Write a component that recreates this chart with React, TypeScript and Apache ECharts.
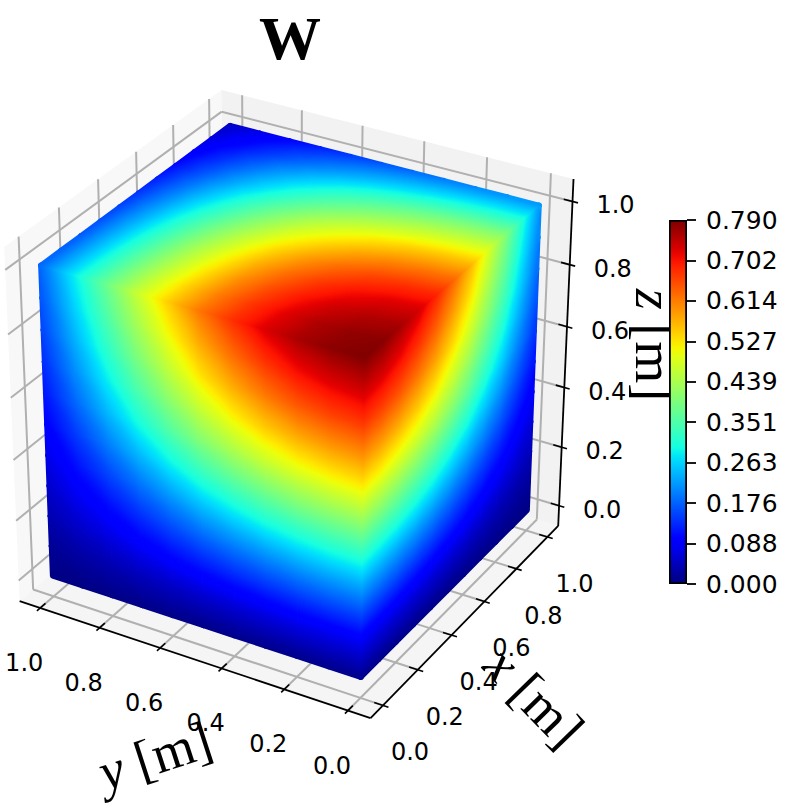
import React, { useEffect, useRef } from "react";
import * as echarts from "echarts";

const tickValues = [0, 0.2, 0.4, 0.6, 0.8, 1.0];
const colorbarTicks = [0, 0.0878, 0.1756, 0.2633, 0.3511, 0.4389, 0.5267, 0.6144, 0.7022, 0.79];
const W_MAX = 0.79;
const gridStep = 0.1;

// W on the top face z=1: rows x = 0..1, columns y = 0..1
const topFace = [
  [.790,.782,.762,.727,.679,.620,.545,.462,.371,.277,.182],
  [.784,.776,.757,.721,.674,.615,.541,.459,.368,.274,.180],
  [.763,.755,.736,.702,.656,.599,.526,.446,.359,.267,.175],
  [.731,.724,.705,.673,.629,.574,.504,.428,.344,.256,.168],
  [.687,.680,.663,.632,.591,.539,.474,.402,.323,.240,.158],
  [.629,.623,.607,.579,.541,.494,.434,.368,.296,.220,.145],
  [.562,.556,.542,.517,.483,.441,.388,.329,.264,.197,.129],
  [.482,.477,.465,.443,.415,.378,.333,.282,.227,.169,.111],
  [.400,.396,.386,.368,.344,.314,.276,.234,.188,.140,.092],
  [.308,.305,.297,.283,.265,.242,.213,.180,.145,.108,.071],
  [.221,.219,.213,.203,.190,.173,.152,.129,.104,.077,.051],
];
// W on the face x=0: rows y = 0..1, columns z = 0..1
const leftFace = [
  [.012,.071,.150,.233,.324,.419,.514,.596,.672,.735,.790],
  [.012,.070,.149,.231,.321,.414,.508,.590,.665,.727,.782],
  [.011,.069,.145,.225,.312,.404,.495,.575,.648,.709,.762],
  [.011,.065,.138,.214,.298,.385,.473,.549,.618,.676,.727],
  [.010,.061,.129,.200,.278,.360,.441,.513,.577,.631,.679],
  [.009,.056,.118,.183,.254,.329,.403,.468,.527,.577,.620],
  [.008,.049,.104,.161,.223,.289,.354,.411,.463,.507,.545],
  [.007,.042,.088,.136,.189,.245,.300,.349,.393,.430,.462],
  [.006,.033,.070,.109,.152,.197,.241,.280,.315,.345,.371],
  [.004,.025,.053,.082,.114,.147,.180,.209,.235,.258,.277],
  [.003,.016,.035,.054,.075,.096,.118,.137,.155,.169,.182],
];
// W on the face y=0: rows x = 0..1, columns z = 0..1
const rightFace = [
  [.012,.071,.150,.233,.324,.419,.514,.596,.672,.735,.790],
  [.012,.071,.149,.231,.321,.416,.510,.592,.666,.729,.784],
  [.011,.069,.145,.225,.313,.404,.496,.576,.649,.710,.763],
  [.011,.066,.139,.216,.300,.387,.475,.552,.621,.680,.731],
  [.010,.062,.131,.203,.282,.364,.447,.519,.584,.639,.687],
  [.009,.057,.120,.186,.258,.333,.409,.475,.535,.585,.629],
  [.008,.051,.107,.166,.230,.298,.365,.424,.478,.523,.562],
  [.007,.043,.092,.142,.198,.255,.313,.364,.410,.448,.482],
  [.006,.036,.076,.118,.164,.212,.260,.302,.340,.372,.400],
  [.005,.028,.059,.091,.126,.163,.200,.233,.262,.286,.308],
  [.003,.020,.042,.065,.091,.117,.144,.167,.188,.206,.221],
];

const LO = -0.07;
const HI = 1.07;

// Calibration of the camera: data-space points and where they sit on the page
const calibration: number[][] = [
  [LO, LO, LO, 370, 717], [HI, LO, LO, 557, 524], [LO, HI, LO, 20, 602],
  [HI, LO, HI, 572, 178], [LO, HI, HI, 5, 248], [HI, HI, HI, 222, 90],
  [0, 1, 1, 40, 265], [1, 1, 1, 230, 126], [1, 0, 1, 540, 206],
  [0, 1, 0, 52, 574], [1, 0, 0, 528, 513], [0, 0, 0, 362, 678],
];

function solveCamera(points: number[][]) {
  const rows: number[][] = [];
  const rhs: number[] = [];
  points.forEach(([x, y, z, u, v]) => {
    rows.push([x, y, z, 1, 0, 0, 0, 0, -u * x, -u * y, -u * z]);
    rhs.push(u);
    rows.push([0, 0, 0, 0, x, y, z, 1, -v * x, -v * y, -v * z]);
    rhs.push(v);
  });
  const n = 11;
  const m: number[][] = [];
  for (let i = 0; i < n; i++) {
    const r: number[] = [];
    for (let j = 0; j < n; j++) {
      let s = 0;
      rows.forEach((row) => (s += row[i] * row[j]));
      r.push(s);
    }
    let s = 0;
    rows.forEach((row, k) => (s += row[i] * rhs[k]));
    r.push(s);
    m.push(r);
  }
  for (let c = 0; c < n; c++) {
    let p = c;
    for (let r = c + 1; r < n; r++) if (Math.abs(m[r][c]) > Math.abs(m[p][c])) p = r;
    [m[c], m[p]] = [m[p], m[c]];
    for (let r = 0; r < n; r++) {
      if (r === c) continue;
      const f = m[r][c] / m[c][c];
      for (let k = c; k <= n; k++) m[r][k] -= f * m[c][k];
    }
  }
  return m.map((r, i) => r[n] / r[i]);
}
const cam = solveCamera(calibration);
function project(x: number, y: number, z: number): [number, number] {
  const d = cam[8] * x + cam[9] * y + cam[10] * z + 1;
  return [
    (cam[0] * x + cam[1] * y + cam[2] * z + cam[3]) / d,
    (cam[4] * x + cam[5] * y + cam[6] * z + cam[7]) / d,
  ];
}

const jetR = [[0, 0], [0.35, 0], [0.66, 1], [0.89, 1], [1, 0.5]];
const jetG = [[0, 0], [0.125, 0], [0.375, 1], [0.64, 1], [0.91, 0], [1, 0]];
const jetB = [[0, 0.5], [0.11, 1], [0.34, 1], [0.65, 0], [1, 0]];
function channel(t: number, s: number[][]) {
  for (let i = 1; i < s.length; i++) {
    if (t <= s[i][0]) {
      const a = s[i - 1];
      const b = s[i];
      return a[1] + ((b[1] - a[1]) * (t - a[0])) / (b[0] - a[0]);
    }
  }
  return s[s.length - 1][1];
}
function jet(t0: number) {
  const t = Math.max(0, Math.min(1, t0));
  return `rgb(${Math.round(channel(t, jetR) * 255)},${Math.round(channel(t, jetG) * 255)},${Math.round(channel(t, jetB) * 255)})`;
}

function facePoint(face: number, i: number, j: number): { p: number[]; v: number } {
  const a = i * gridStep;
  const b = j * gridStep;
  if (face === 0) return { p: [0, a, b], v: leftFace[i][j] };
  if (face === 1) return { p: [a, 0, b], v: rightFace[i][j] };
  return { p: [a, b, 1], v: topFace[i][j] };
}

// every item: face, cell i, cell j, triangle 0/1, thick outline flag
const cubeCells: number[][] = [];
const N = topFace.length - 1;
for (let thick = 1; thick >= 0; thick--) {
  for (let face = 0; face < 3; face++) {
    for (let i = 0; i < N; i++) {
      for (let j = 0; j < N; j++) {
        const edge = i === 0 || j === 0 || i === N - 1 || j === N - 1;
        if (thick && !edge) continue;
        cubeCells.push([face, i, j, 0, thick]);
        cubeCells.push([face, i, j, 1, thick]);
      }
    }
  }
}

function renderCell(_: any, api: any) {
  const face = api.value(0), i = api.value(1), j = api.value(2), tri = api.value(3), thick = api.value(4);
  const ids = tri === 0 ? [[i, j], [i + 1, j], [i + 1, j + 1]] : [[i, j], [i + 1, j + 1], [i, j + 1]];
  const nodes = ids.map(([a, b]) => {
    const n = facePoint(face, a, b);
    const c = api.coord(project(n.p[0], n.p[1], n.p[2]));
    return { x: c[0], y: c[1], v: n.v };
  });
  const [n0, n1, n2] = nodes;
  const ax = n1.x - n0.x, ay = n1.y - n0.y, bx = n2.x - n0.x, by = n2.y - n0.y;
  const dv1 = n1.v - n0.v, dv2 = n2.v - n0.v;
  const det = ax * by - ay * bx;
  const gx = (dv1 * by - dv2 * ay) / det;
  const gy = (ax * dv2 - bx * dv1) / det;
  const g2 = gx * gx + gy * gy;
  const vs = nodes.map((n) => n.v);
  const vmin = Math.min(...vs), vmax = Math.max(...vs);
  let fill: any = jet(vmin / W_MAX);
  if (g2 > 1e-12 && vmax - vmin > 1e-5) {
    const low = nodes[vs.indexOf(vmin)];
    const sx = low.x, sy = low.y;
    const k = (vmax - vmin) / g2;
    const stops = [];
    const n = 8;
    for (let q = 0; q <= n; q++) {
      stops.push({ offset: q / n, color: jet((vmin + ((vmax - vmin) * q) / n) / W_MAX) });
    }
    fill = new echarts.graphic.LinearGradient(sx, sy, sx + gx * k, sy + gy * k, stops, true);
  }
  return {
    type: "polygon",
    shape: { points: nodes.map((n) => [n.x, n.y]) },
    style: { fill, stroke: fill, lineWidth: thick ? 6 : 1.2, lineJoin: "round" },
    silent: true,
  };
}

const paneCorners = [
  { fill: "#f8f8f8", pts: [[LO, HI, LO], [HI, HI, LO], [HI, HI, HI], [LO, HI, HI]] },
  { fill: "#f2f2f2", pts: [[HI, LO, LO], [HI, HI, LO], [HI, HI, HI], [HI, LO, HI]] },
  { fill: "#f5f5f5", pts: [[LO, LO, LO], [HI, LO, LO], [HI, HI, LO], [LO, HI, LO]] },
];

const lineSegments: { a: number[]; b: number[]; color: string; w: number }[] = [];
const GRID = "#b0b0b0";
tickValues.forEach((t) => {
  lineSegments.push({ a: [t, HI, LO], b: [t, HI, HI], color: GRID, w: 2 });
  lineSegments.push({ a: [LO, HI, t], b: [HI, HI, t], color: GRID, w: 2 });
  lineSegments.push({ a: [HI, t, LO], b: [HI, t, HI], color: GRID, w: 2 });
  lineSegments.push({ a: [HI, LO, t], b: [HI, HI, t], color: GRID, w: 2 });
  lineSegments.push({ a: [t, LO, LO], b: [t, HI, LO], color: GRID, w: 2 });
  lineSegments.push({ a: [LO, t, LO], b: [HI, t, LO], color: GRID, w: 2 });
});
const TICK = 0.017;
const AXIS = "#000000";
lineSegments.push({ a: [LO, LO, LO], b: [LO, HI, LO], color: AXIS, w: 1.8 });
lineSegments.push({ a: [LO, LO, LO], b: [HI, LO, LO], color: AXIS, w: 1.8 });
lineSegments.push({ a: [HI, LO, LO], b: [HI, LO, HI], color: AXIS, w: 1.8 });
tickValues.forEach((t) => {
  lineSegments.push({ a: [t, LO - TICK, LO], b: [t, LO + TICK * 1.6, LO], color: AXIS, w: 1.6 });
  lineSegments.push({ a: [LO - TICK, t, LO], b: [LO + TICK * 1.6, t, LO], color: AXIS, w: 1.6 });
  lineSegments.push({ a: [HI, LO - TICK, t], b: [HI, LO + TICK * 1.6, t], color: AXIS, w: 1.6 });
});

const tickLabelItems: { axis: number; t: number }[] = [];
[0, 1, 2].forEach((axis) => tickValues.forEach((t) => tickLabelItems.push({ axis, t })));

const SERIF = '"Liberation Serif", "Times New Roman", serif';

function axisName(italic: string, x: number, y: number, deg: number) {
  return {
    type: "text",
    x,
    y,
    rotation: (deg * Math.PI) / 180,
    z: 1,
    style: {
      text: `{i|${italic}} {r|[m]}`,
      align: "center",
      verticalAlign: "middle",
      rich: {
        i: { fontFamily: SERIF, fontStyle: "italic", fontSize: 54, fill: "#000" },
        r: { fontFamily: SERIF, fontSize: 54, fill: "#000" },
      },
      fontFamily: SERIF,
      fontSize: 54,
    },
  };
}

function makeOption(): any {
  const cbStops = [];
  for (let i = 0; i <= 40; i++) cbStops.push({ offset: i / 40, color: jet(1 - i / 40) });
  return {
    animation: false,
    backgroundColor: "#ffffff",
    title: {
      text: "W",
      left: 285,
      top: 2,
      textAlign: "center",
      textStyle: { fontFamily: SERIF, fontWeight: "bold", fontSize: 62, color: "#000" },
    },
    grid: [
      { left: 0, top: 0, width: 791, height: 809 },
      { left: 669, top: 220, width: 18, height: 364 },
    ],
    xAxis: [
      { type: "value", min: 0, max: 791, show: false, gridIndex: 0 },
      { type: "category", data: ["W"], show: false, gridIndex: 1 },
    ],
    yAxis: [
      { type: "value", min: 0, max: 809, inverse: true, show: false, gridIndex: 0 },
      {
        type: "value",
        gridIndex: 1,
        min: 0,
        max: W_MAX,
        position: "right",
        splitLine: { show: false },
        axisLine: { show: false },
        axisTick: { show: true, length: 9, customValues: colorbarTicks, lineStyle: { color: "#000", width: 1.8 } },
        axisLabel: {
          customValues: colorbarTicks,
          margin: 19 - 9 + 9,
          formatter: (v: number) => v.toFixed(3),
          fontFamily: '"DejaVu Sans"',
          fontSize: 25,
          color: "#000",
        },
      },
    ],
    graphic: [
      axisName("y", 155, 756, 18),
      axisName("x", 534, 697, -46),
      axisName("z", 654, 345, -90),
    ],
    series: [
      {
        type: "custom",
        name: "panes",
        xAxisIndex: 0,
        yAxisIndex: 0,
        z: 2,
        silent: true,
        data: paneCorners.map((_, i) => [i]),
        renderItem: (_: any, api: any) => {
          const pane = paneCorners[api.value(0)];
          return {
            type: "polygon",
            shape: { points: pane.pts.map((p) => api.coord(project(p[0], p[1], p[2]))) },
            style: { fill: pane.fill },
          };
        },
      },
      {
        type: "custom",
        name: "lines",
        xAxisIndex: 0,
        yAxisIndex: 0,
        z: 3,
        silent: true,
        data: lineSegments.map((_, i) => [i]),
        renderItem: (_: any, api: any) => {
          const s = lineSegments[api.value(0)];
          const a = api.coord(project(s.a[0], s.a[1], s.a[2]));
          const b = api.coord(project(s.b[0], s.b[1], s.b[2]));
          return {
            type: "line",
            shape: { x1: a[0], y1: a[1], x2: b[0], y2: b[1] },
            style: { stroke: s.color, lineWidth: s.w },
          };
        },
      },
      {
        type: "custom",
        name: "tickLabels",
        xAxisIndex: 0,
        yAxisIndex: 0,
        z: 4,
        silent: true,
        data: tickLabelItems.map((_, i) => [i]),
        renderItem: (_: any, api: any) => {
          const it = tickLabelItems[api.value(0)];
          let p: [number, number];
          let dx = 0, dy = 0;
          if (it.axis === 0) { p = project(it.t, LO, LO); dx = 27; dy = 47; }
          else if (it.axis === 1) { p = project(LO, it.t, LO); dx = -16; dy = 55; }
          else { p = project(HI, LO, it.t); dx = 43; dy = 4; }
          const c = api.coord(p);
          return {
            type: "text",
            style: {
              text: it.t.toFixed(1),
              x: c[0] + dx,
              y: c[1] + dy,
              align: "center",
              verticalAlign: "middle",
              fontFamily: '"DejaVu Sans"',
              fontSize: 24,
              fill: "#000",
            },
          };
        },
      },
      {
        type: "custom",
        name: "W",
        xAxisIndex: 0,
        yAxisIndex: 0,
        z: 5,
        silent: true,
        clip: false,
        data: cubeCells,
        renderItem: renderCell,
      },
      {
        type: "bar",
        name: "colorbar",
        xAxisIndex: 1,
        yAxisIndex: 1,
        z: 10,
        barWidth: "100%",
        silent: true,
        data: [W_MAX],
        itemStyle: {
          color: new echarts.graphic.LinearGradient(0, 0, 0, 1, cbStops),
          borderColor: "#000",
          borderWidth: 1.8,
        },
      },
    ],
  };
}

export default function App() {
  const ref = useRef<HTMLDivElement>(null);
  useEffect(() => {
    document.body.style.margin = "0";
    const chart = echarts.init(ref.current!, null, { renderer: "svg" });
    chart.setOption(makeOption());
    return () => chart.dispose();
  }, []);
  return <div ref={ref} style={{ width: 791, height: 809 }} />;
}
